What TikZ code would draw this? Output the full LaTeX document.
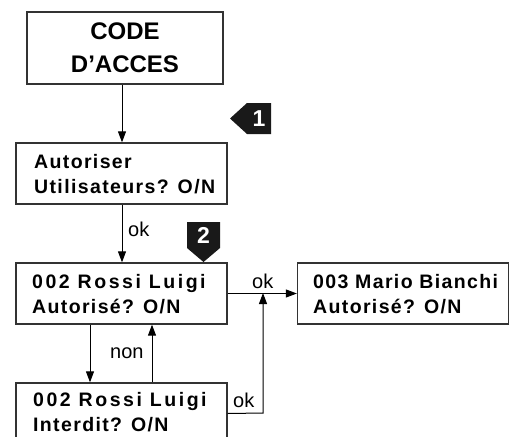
\documentclass[tikz,border=0pt]{standalone}
\usepackage{fontspec}
\setmainfont{Liberation Sans}
\newfontfamily\boxfont[LetterSpace=7]{Liberation Sans}
\newfontfamily\widefont[LetterSpace=13]{Liberation Sans}
\usetikzlibrary{arrows.meta}
\tikzset{
  stepbox/.style={draw=black!80, line width=1.3pt, minimum width=211pt, minimum height=61pt, inner sep=0pt},
  titlebox/.style={draw=black!80, line width=1.3pt, minimum width=196pt, minimum height=72pt, inner sep=0pt, align=center, font=\fontsize{24}{33}\selectfont\bfseries},
  boxtext/.style={anchor=west, inner sep=0pt, align=left, font=\fontsize{19.5}{25}\boxfont\bfseries},
  lbl/.style={anchor=base west, inner sep=0pt, font=\fontsize{20}{22}\selectfont},
  conn/.style={line width=1pt, -{Triangle[length=11pt,width=8pt]}},
  marktext/.style={text=white, inner sep=0pt, font=\fontsize{23}{23}\selectfont\bfseries}
}
\begin{document}
\begin{tikzpicture}[x=1pt,y=-1pt]
\useasboundingbox (0,0) rectangle (510,436);
\clip (0,0) rectangle (510,436);
% boxes
\node[titlebox] (code) at (125,48) {CODE\\D'ACCES};
\node[stepbox] (aut) at (121.5,173.5) {};
\node[stepbox] (rossiA) at (121.5,293.5) {};
\node[stepbox] (mario) at (403,293.5) {};
\node[stepbox] (rossiI) at (121.5,413.5) {};
% texts
\node[boxtext] (tAut) at (34,174) {Autoriser\\Utilisateurs? O/N};
\node[boxtext] (tRossiA) at (32,294) {{\widefont 002 Rossi Luigi}\\Autorisé? O/N};
\node[boxtext] (tMario) at (313,294) {003 Mario Bianchi\\Autorisé? O/N};
\node[boxtext] (tRossiI) at (33,412) {{\widefont 002 Rossi Luigi}\\Interdit? O/N};
% connector points
\coordinate (c1) at (263,413);
\coordinate (c2) at (263,293);
% connectors
\draw[conn] (code.south -| 122,0) -- (aut.north -| 122,0);
\draw[conn] (aut.south -| 122,0) -- (rossiA.north -| 122,0);
\draw[conn] (rossiA.east) -- (mario.west);
\draw[conn] (rossiA.south -| 90,0) -- (rossiI.north -| 90,0);
\draw[conn] (rossiI.north -| 152,0) -- (rossiA.south -| 152,0);
\draw[conn] (rossiI.east) -- (c1) -- (c2);
% labels
\node[lbl] (ok1) at (128,236) {ok};
\node[lbl] (ok2) at (252,288) {ok};
\node[lbl] (non) at (110,358) {non};
\node[lbl] (ok3) at (233,407) {ok};
% markers
\fill[black!90] (230,118.5) -- (247,103) -- (271,103) -- (271,134) -- (247,134) -- cycle;
\node[marktext] (m1) at (259,118.5) {1};
\fill[black!90] (187,222) -- (220,222) -- (220,248) -- (203.5,262) -- (187,248) -- cycle;
\node[marktext] (m2) at (203.5,235) {2};
\end{tikzpicture}
\end{document}
